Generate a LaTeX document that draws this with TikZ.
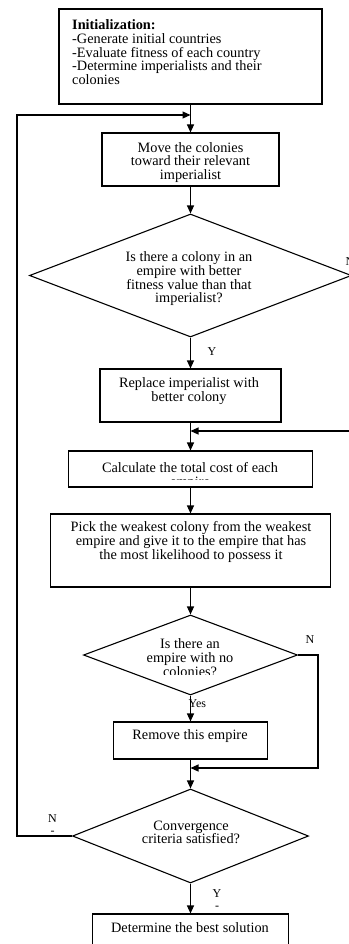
\documentclass[tikz,border=0pt]{standalone}
\usepackage{fontspec}
\setmainfont{Liberation Serif}
\usetikzlibrary{shapes.geometric,arrows.meta}
\begin{document}
\begin{tikzpicture}[x=1pt,y=-1pt,
  box/.style={draw, line width=1.1pt, rectangle, inner sep=0pt},
  dia/.style={draw, line width=1.1pt, diamond, inner sep=0pt},
  txt/.style={inner sep=0pt, align=center, font=\fontsize{14.3}{13.7}\selectfont},
  lbl/.style={inner sep=0pt, align=center, font=\fontsize{12}{12}\selectfont},
  conn/.style={line width=1.1pt},
  arr/.style={conn, -{Triangle[length=8pt,width=7pt]}}
]
\useasboundingbox (0,0) rectangle (348,944);

% boxes and decisions
\node[box, minimum width=263pt, minimum height=95pt] (init) at (190.5,56.5) {};
\node[box, minimum width=177pt, minimum height=53pt] (move) at (190.5,159.5) {};
\node[dia, minimum width=322pt, minimum height=123pt] (d1) at (190.5,275.5) {};
\node[box, minimum width=181pt, minimum height=53pt] (replace) at (190.5,395.5) {};
\node[box, minimum width=244pt, minimum height=36pt] (calc) at (190.5,469) {};
\node[box, minimum width=280pt, minimum height=73pt] (pick) at (190.5,550.5) {};
\node[dia, minimum width=214pt, minimum height=80pt] (d2) at (190.5,655) {};
\node[box, minimum width=154pt, minimum height=37pt] (remove) at (190.5,740.5) {};
\node[dia, minimum width=236pt, minimum height=94pt] (d3) at (190.5,836) {};
\node[box, minimum width=196pt, minimum height=41pt] (final) at (190.5,934.5) {};

% texts
\node[txt, align=left, anchor=north west] (inittext) at (72,19.5)
  {\textbf{Initialization:}\\-Generate initial countries\\-Evaluate fitness of each country\\-Determine imperialists and their\\colonies};
\node[txt, anchor=north] (movetext) at (190.5,142) {Move the colonies\\toward their relevant\\imperialist};
\node[txt, anchor=north] (d1text) at (189,251.5) {Is there a colony in an\\empire with better\\fitness value than that\\imperialist?};
\node[txt, anchor=north] (replacetext) at (189,377.5) {Replace imperialist with\\better colony};
\begin{scope}
  \clip (0,451) rectangle (348,479);
  \node[txt, anchor=north] (calctext) at (190,462.5) {Calculate the total cost of each\\empire};
\end{scope}
\node[txt, anchor=north] (picktext) at (191,521.5) {Pick the weakest colony from the weakest\\empire and give it to the empire that has\\the most likelihood to possess it};
\begin{scope}
  \clip (0,615) rectangle (348,674);
  \node[txt, anchor=north] (d2text) at (190,638.5) {Is there an\\empire with no\\colonies?};
\end{scope}
\node[txt, anchor=north] (removetext) at (190,729.5) {Remove this empire};
\node[txt, anchor=north] (d3text) at (191,820.5) {Convergence\\criteria satisfied?};
\node[txt, anchor=north] (finaltext) at (190,922.5) {Determine the best solution};

% labels
\node[lbl] (ly1) at (212,352) {Y};
\node[lbl] (ln1) at (350,262) {N};
\node[lbl] (ln2) at (310,640) {N};
\node[lbl, anchor=west] (ly2) at (188.5,704) {Yes};
\node[lbl] (ln3) at (52.5,824.5) {N\\-};
\node[lbl] (ly3) at (217,899.5) {Y\\-};

% junction coordinates
\coordinate (j1) at (190.5,115);
\coordinate (j2) at (190.5,431);
\coordinate (j3) at (190.5,768);
\coordinate (lc) at (17,115);
\coordinate (r2) at (318,768);

% connectors
\draw[arr] (init.south) -- (move.north);
\draw[arr] (move.south) -- (d1.north);
\draw[arr] (d1.south) -- (replace.north);
\draw[arr] (replace.south) -- (calc.north);
\draw[arr] (calc.south) -- (pick.north);
\draw[arr] (pick.south) -- (d2.north);
\draw[arr] (d2.south) -- (remove.north);
\draw[arr] (remove.south) -- (d3.north);
\draw[arr] (d3.south) -- (final.north);
\draw[arr] (d3.west) -| (lc) -- (j1);
\draw[arr] (d1.east) -- ++(12,0) |- (j2);
\draw[arr] (d2.east) -| (r2) -- (j3);
\end{tikzpicture}
\end{document}
